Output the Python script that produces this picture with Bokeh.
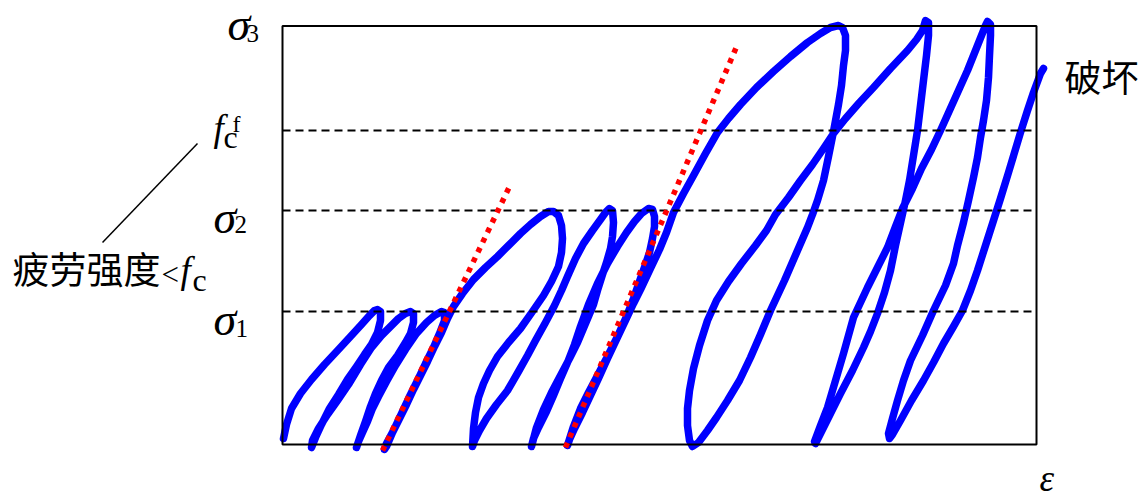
from bokeh.plotting import figure
from bokeh.models import Range1d
from bokeh.core.properties import value
from bokeh.embed import file_html
from bokeh.resources import INLINE

# ---- data (strain: arbitrary units, stress: arbitrary units) ----
eps_max = 754          # right edge of the strain frame
sigma3 = 418.5         # top of stress frame (sigma_3)
level_stress = [133, 234, 314]           # sigma_1, sigma_2, f_c^f
level_names = ["σ1", "σ2", "fcf"]

# cyclic loading / unloading path (continuous curve)
strain = [
    # cycle 1
    1, 4, 9, 18, 29, 42, 56, 68, 79, 87, 92, 95,
    98, 98, 95, 89, 82, 74, 65, 56, 47, 39, 33, 29,
    # cycle 2
    30, 36, 45, 55, 66, 78, 89, 99, 108, 116, 123, 128,
    131, 131, 128, 123, 115, 106, 99, 93, 88, 83, 78, 74,
    # cycle 3
    76, 80, 85, 90, 96, 104, 113, 123, 134, 144, 152, 159,
    162, 162, 157, 151, 143, 135, 127, 119, 111, 104, 102,
    # cycle 4
    104, 110, 117, 124, 131, 138, 145, 152, 159, 165, 171, 180, 191, 203, 215, 226, 238, 248, 258, 266,
    271, 276, 279, 280, 279, 276, 269, 261, 250, 238, 226, 215, 207, 201, 196, 193, 191, 190,
    # cycle 5
    192, 197, 204, 214, 225, 236, 245, 253, 263, 272, 279, 285, 293, 301, 310, 318, 323, 327,
    330, 331, 330, 328, 324, 320, 315, 311, 303, 295, 287, 278, 269, 261, 254, 249,
    # cycle 6
    251, 256, 264, 271, 278, 285, 292, 298, 306, 315, 325, 335, 344, 352, 359, 366,
    370, 372, 372, 370, 367, 363, 358, 351, 344, 335, 325, 315, 306, 298, 291, 285,
    # cycle 7
    287, 292, 300, 308, 316, 325, 334, 343, 351, 359, 368, 377, 384, 391, 401, 411, 423, 435,
    446, 458, 474, 491, 508, 525, 538, 548, 556,
    560, 563, 563, 561, 559, 556, 551, 546, 541, 535, 530, 525, 515, 502, 488, 478, 468, 457,
    445, 434, 425, 416, 410,
    # cycle 8
    407, 405, 405, 407, 411, 417, 425, 434, 446, 459, 473, 484, 493, 506, 518, 530, 541, 551,
    563, 577, 591, 608, 625, 634, 640, 643,
    646, 646, 644, 641, 638, 635, 631, 627, 623, 619, 613, 608, 602, 595, 588, 581, 570, 558,
    548, 538, 533,
    # cycle 9
    532, 538, 545, 553, 561, 571, 578, 585, 595, 605, 613, 620, 630, 639, 649, 658, 667, 676,
    685, 693, 699, 703, 705,
    708, 708, 707, 706, 704, 701, 698, 695, 691, 686, 681, 675, 671, 663, 651, 640, 628, 621,
    615, 610, 606, 607,
    # final loading to failure
    610, 618, 629, 641, 651, 661, 671, 680, 688, 695, 703, 711, 718, 726, 732, 738, 745, 751,
    758, 761,
]
stress = [
    6, 20, 36, 51, 65, 80, 95, 108, 120, 129, 134, 135,
    133, 124, 112, 100, 90, 78, 65, 50, 36, 20, 7, -3,
    4, 16, 30, 44, 60, 80, 97, 109, 118, 126, 131, 133,
    131, 122, 111, 102, 89, 77, 64, 51, 38, 23, 9, -3,
    3, 12, 23, 36, 48, 63, 79, 95, 111, 122, 129, 133,
    132, 124, 111, 97, 81, 64, 48, 31, 14, 1, -5,
    -2, 12, 26, 40, 55, 69, 83, 98, 112, 126, 138, 151, 165, 177, 188, 199, 211, 220, 228, 233,
    233, 229, 219, 206, 192, 178, 163, 149, 133, 116, 102, 88, 74, 61, 47, 32, 16, -2,
    4, 14, 26, 40, 54, 73, 89, 104, 122, 139, 154, 168, 186, 201, 214, 225, 232, 236,
    234, 222, 208, 196, 182, 170, 154, 140, 121, 102, 86, 69, 52, 35, 17, -2,
    6, 17, 33, 49, 66, 82, 100, 118, 140, 161, 181, 198, 212, 223, 231, 236,
    235, 228, 218, 206, 192, 180, 166, 146, 128, 108, 88, 69, 52, 36, 18, -1,
    5, 16, 32, 49, 66, 86, 105, 124, 141, 157, 176, 195, 212, 232, 251, 269, 291, 312,
    326, 340, 357, 373, 388, 402, 411, 417, 419,
    417, 409, 394, 379, 359, 340, 313, 288, 264, 244, 230, 217, 194, 164, 134, 110, 87, 64,
    44, 27, 14, 2, -2,
    4, 19, 36, 54, 76, 99, 124, 144, 163, 181, 199, 214, 230, 247, 264, 280, 296, 311,
    326, 342, 357, 376, 394, 405, 414, 424,
    422, 409, 389, 364, 339, 314, 289, 264, 244, 226, 199, 174, 152, 131, 113, 97, 74, 51,
    31, 11, 1,
    3, 19, 37, 64, 91, 127, 142, 157, 177, 197, 218, 236, 256, 276, 295, 314, 334, 354,
    374, 394, 409, 419, 423,
    420, 409, 389, 367, 344, 324, 307, 287, 267, 244, 222, 199, 181, 159, 134, 109, 84, 64,
    44, 26, 11, 6,
    10, 24, 44, 64, 82, 101, 118, 134, 154, 174, 199, 224, 246, 272, 292, 312, 334, 352,
    371, 376,
]

# tangent (initial stiffness) lines
tangent1_strain = [100, 228]
tangent1_stress = [-6, 260]
tangent2_strain = [283, 455]
tangent2_stress = [-3, 400]

# ---- figure ----
p = figure(width=1142, height=498, x_range=Range1d(-282, 860), y_range=Range1d(-54, 444),
           output_backend="svg", toolbar_location=None, x_axis_type=None, y_axis_type=None,
           min_border=0)
p.grid.visible = False
p.outline_line_color = None
p.background_fill_color = "white"
p.border_fill_color = "white"

# loading path
p.line(strain, stress, line_color="#0000FF", line_width=7.5, line_join="round", line_cap="round")

# frame
p.quad(left=[0], right=[eps_max], bottom=[0], top=[sigma3], fill_alpha=0,
       line_color="black", line_width=2)

# dashed stress levels
p.segment(x0=[0] * 3, y0=level_stress, x1=[eps_max - 4] * 3, y1=level_stress,
          line_color="black", line_width=1.8, line_dash="8 5")

# red dotted tangents
for xs, ys in [(tangent1_strain, tangent1_stress), (tangent2_strain, tangent2_stress)]:
    p.line(xs, ys, line_color="#FF0000", line_width=5.5, line_dash="5 6", line_cap="butt")

serif = value("Liberation Serif")
cjk = value("Noto Sans CJK SC")

# sigma labels
p.text(x=[-55, -69, -69], y=[420, 227, 125], text=["σ", "σ", "σ"], text_font=serif,
       text_font_style="italic", text_font_size="46px", text_baseline="alphabetic",
       text_color="black")
p.text(x=[-36, -48, -47], y=[411, 220, 116], text=["3", "2", "1"], text_font=serif,
       text_font_size="25px", text_baseline="alphabetic", text_color="black")

# f_c^f label and fatigue-strength label
p.text(x=[-69, -102], y=[316, 174], text=["f", "f"], text_font=serif, text_font_style="italic",
       text_font_size="37px", text_baseline="alphabetic", text_color="black")
p.text(x=[-59, -90], y=[308, 165], text=["c", "c"], text_font=serif,
       text_font_size="32px", text_baseline="alphabetic", text_color="black")
p.text(x=[-50], y=[321], text=["f"], text_font=serif,
       text_font_size="24px", text_baseline="alphabetic", text_color="black")
p.text(x=[-121], y=[170], text=["<"], text_font=serif,
       text_font_size="31px", text_baseline="alphabetic", text_color="black")

# leader line
p.line([-180, -85], [202, 301], line_color="black", line_width=1.5)

# CJK labels
p.text(x=[-270, 782], y=[177, 369], text=["疲劳强度", "破坏"], text_font=cjk,
       text_font_size="37px", text_baseline="alphabetic", text_color="black")

# strain symbol
p.text(x=[757], y=[-34], text=["ε"], text_font=serif, text_font_style="italic",
       text_font_size="37px", text_baseline="alphabetic", text_color="black")

open("out.html", "w").write(file_html(p, INLINE))
